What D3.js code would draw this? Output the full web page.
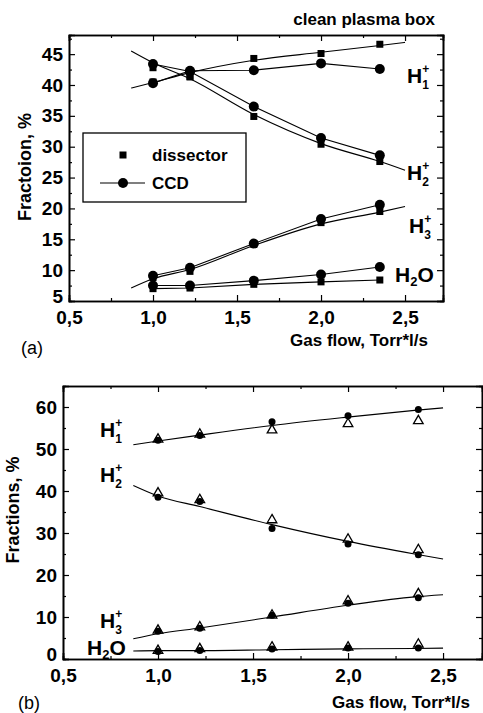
<!DOCTYPE html>
<html>
<head>
<meta charset="utf-8">
<script src="https://cdn.jsdelivr.net/npm/d3@7"></script>
<style>
  body { margin: 0; background: #fff; }
  text { font-family: "Liberation Sans", Arial, sans-serif; fill: #000; }
</style>
</head>
<body>
<div id="chart"></div>
<script>
// gas flow values where the points were measured
var flowA = [1.0, 1.22, 1.6, 2.0, 2.35];
var flowB = [1.0, 1.22, 1.6, 2.0, 2.37];
var fitFlow = [0.87, 1.0, 1.22, 1.6, 2.0, 2.35, 2.5];

var xTicks = [0.5, 1.0, 1.5, 2.0, 2.5];
var yTicksA = [5, 10, 15, 20, 25, 30, 35, 40, 45];
var yTicksB = [0, 10, 20, 30, 40, 50, 60];

// (a) clean plasma box
var dis_h1 = [40.5, 41.3, 44.3, 45.1, 46.6];
var dis_h2 = [42.8, 41.4, 34.9, 30.4, 27.6];
var dis_h3 = [8.8, 9.8, 14.2, 17.7, 19.5];
var dis_h2o = [7.0, 7.1, 7.7, 8.1, 8.4];
var ccd_h1 = [40.3, 42.3, 42.4, 43.5, 42.6];
var ccd_h2 = [43.4, 42.2, 36.5, 31.4, 28.6];
var ccd_h3 = [9.1, 10.4, 14.3, 18.3, 20.6];
var ccd_h2o = [7.5, 7.5, 8.3, 9.3, 10.5];
var fitA_h1 = [39.5, 40.4, 42.0, 44.0, 45.3, 46.4, 46.9];
var fitA_h2 = [45.5, 43.6, 41.0, 35.2, 30.5, 27.6, 26.2];
var fitA_h3 = [7.1, 8.6, 10.1, 14.0, 17.5, 19.4, 20.3];

// (b)
var circ_h1 = [52.1, 53.2, 56.5, 57.9, 59.4];
var tri_h1 = [52.3, 53.5, 54.5, 56.0, 56.7];
var circ_h2 = [38.5, 37.5, 31.1, 27.4, 24.8];
var tri_h2 = [39.5, 37.9, 33.1, 28.5, 26.0];
var circ_h3 = [6.6, 7.3, 10.4, 13.3, 14.6];
var tri_h3 = [6.8, 7.6, 10.4, 13.8, 15.5];
var circ_h2o = [1.8, 2.0, 2.4, 2.6, 2.6];
var tri_h2o = [2.0, 2.4, 2.8, 2.8, 3.5];
var fitB_h1 = [51.0, 51.9, 53.3, 55.6, 57.6, 59.2, 59.8];
var fitB_h2 = [41.3, 38.8, 36.3, 32.0, 28.0, 25.0, 23.8];
var fitB_h3 = [4.8, 6.0, 7.4, 10.0, 12.8, 14.8, 15.3];
var fitB_h2o = [1.9, 2.0, 2.0, 2.2, 2.4, 2.5, 2.6];

var svg = d3.select("#chart").append("svg")
  .attr("width", 483)
  .attr("height", 713);

var fmt = d => d3.format(".1f")(d).replace(".", ",");

function pairs(xs, ys) {
  return xs.map((x, i) => [x, ys[i]]);
}

function draw_frame(x, y, yTicks, yMinor, xMinor) {
  var x0 = x.range()[0], x1 = x.range()[1];
  var y0 = y.range()[0], y1 = y.range()[1];

  var bottom = svg.append("g")
    .attr("transform", "translate(0," + y0 + ")")
    .call(d3.axisBottom(x).tickValues(xTicks).tickFormat(fmt).tickSize(-6).tickPadding(10));
  svg.append("g")
    .attr("transform", "translate(0," + y0 + ")")
    .call(d3.axisBottom(x).tickValues(xMinor).tickFormat("").tickSize(-3));
  svg.append("g")
    .attr("transform", "translate(0," + y1 + ")")
    .call(d3.axisTop(x).tickValues(xTicks).tickFormat("").tickSize(-6));
  svg.append("g")
    .attr("transform", "translate(0," + y1 + ")")
    .call(d3.axisTop(x).tickValues(xMinor).tickFormat("").tickSize(-3));

  var left = svg.append("g")
    .attr("transform", "translate(" + x0 + ",0)")
    .call(d3.axisLeft(y).tickValues(yTicks).tickFormat(d3.format("d")).tickSize(-6).tickPadding(6));
  svg.append("g")
    .attr("transform", "translate(" + x0 + ",0)")
    .call(d3.axisLeft(y).tickValues(yMinor).tickFormat("").tickSize(-3));
  svg.append("g")
    .attr("transform", "translate(" + x1 + ",0)")
    .call(d3.axisRight(y).tickValues(yTicks).tickFormat("").tickSize(-6));
  svg.append("g")
    .attr("transform", "translate(" + x1 + ",0)")
    .call(d3.axisRight(y).tickValues(yMinor).tickFormat("").tickSize(-3));

  svg.selectAll(".domain").attr("stroke-width", 1.6);
  svg.selectAll(".tick line").attr("stroke-width", 1.2);
  [bottom, left].forEach(g => g.selectAll("text")
    .style("font-size", "19px").style("font-weight", "bold")
    .style("font-family", "'Liberation Sans', Arial, sans-serif"));
  // lowest y label sits a little higher, as in the print
  left.selectAll(".tick text").filter(d => d === y.domain()[0]).attr("dy", "0.1em");
}

// H with stacked charge (+) over the subscript, or H2O
function ion_label(xp, yp, sub, sup, tail) {
  var t = svg.append("text").attr("x", xp).attr("y", yp)
    .style("font-size", "21px").style("font-weight", "bold");
  t.append("tspan").text("H");
  if (sup) {
    t.append("tspan").attr("dy", -10).style("font-size", "12px").text(sup);
    t.append("tspan").attr("dx", -7).attr("dy", 16).style("font-size", "12px").text(sub);
  } else {
    t.append("tspan").attr("dy", 4).style("font-size", "13px").text(sub);
    t.append("tspan").attr("dy", -4).text(tail);
  }
}

// ---------- panel (a) ----------
var xa = d3.scaleLinear().domain([0.5, 2.726]).range([69, 443]);
var ya = d3.scaleLinear().domain([5, 48.1]).range([301, 35]);

draw_frame(xa, ya, yTicksA, d3.range(7.5, 48, 5), d3.range(0.75, 2.7, 0.5));

var lineA = d3.line().x(d => xa(d[0])).y(d => ya(d[1]));
var fitLineA = d3.line().x(d => xa(d[0])).y(d => ya(d[1])).curve(d3.curveMonotoneX);

[fitA_h1, fitA_h2, fitA_h3].forEach(function(s) {
  svg.append("path").datum(pairs(fitFlow, s))
    .attr("fill", "none").attr("stroke", "#000").attr("stroke-width", 1.1)
    .attr("d", fitLineA);
});
[ccd_h1, ccd_h2, ccd_h3, ccd_h2o, dis_h2o].forEach(function(s) {
  svg.append("path").datum(pairs(flowA, s))
    .attr("fill", "none").attr("stroke", "#000").attr("stroke-width", 1.1)
    .attr("d", lineA);
});

[dis_h1, dis_h2, dis_h3, dis_h2o].forEach(function(s) {
  svg.append("g").selectAll("rect")
    .data(pairs(flowA, s))
    .join("rect")
      .attr("x", d => xa(d[0]) - 3.5)
      .attr("y", d => ya(d[1]) - 3.5)
      .attr("width", 7).attr("height", 7)
      .attr("fill", "#000");
});
[ccd_h1, ccd_h2, ccd_h3, ccd_h2o].forEach(function(s) {
  svg.append("g").selectAll("circle")
    .data(pairs(flowA, s))
    .join("circle")
      .attr("cx", d => xa(d[0]))
      .attr("cy", d => ya(d[1]))
      .attr("r", 5)
      .attr("fill", "#000");
});

// legend
svg.append("rect").attr("x", 83).attr("y", 133).attr("width", 163).attr("height", 69)
  .attr("fill", "#fff").attr("stroke", "#000").attr("stroke-width", 1.3);
svg.append("rect").attr("x", 119.5).attr("y", 151.5).attr("width", 7).attr("height", 7).attr("fill", "#000");
svg.append("line").attr("x1", 100).attr("x2", 145).attr("y1", 183).attr("y2", 183)
  .attr("stroke", "#000").attr("stroke-width", 1.1);
svg.append("circle").attr("cx", 123).attr("cy", 183).attr("r", 5).attr("fill", "#000");
svg.append("text").attr("x", 152).attr("y", 161).style("font-size", "17px").style("font-weight", "bold").text("dissector");
svg.append("text").attr("x", 152).attr("y", 189).style("font-size", "17px").style("font-weight", "bold").text("CCD");

ion_label(407, 83, "1", "+");
ion_label(407, 180, "2", "+");
ion_label(409, 233, "3", "+");
ion_label(395, 282, "2", null, "O");

svg.append("text").attr("x", 435).attr("y", 25).attr("text-anchor", "end")
  .style("font-size", "17px").style("font-weight", "bold").text("clean plasma box");
svg.append("text").attr("transform", "translate(31,167) rotate(-90)").attr("text-anchor", "middle")
  .style("font-size", "18px").style("font-weight", "bold").text("Fractoion, %");
svg.append("text").attr("x", 428).attr("y", 346).attr("text-anchor", "end")
  .style("font-size", "17px").style("font-weight", "bold").text("Gas flow, Torr*l/s");
svg.append("text").attr("x", 21).attr("y", 354).style("font-size", "18px").text("(a)");

// ---------- panel (b) ----------
var xb = d3.scaleLinear().domain([0.5, 2.705]).range([63, 482]);
var yb = d3.scaleLinear().domain([0, 65]).range([659, 386]);

draw_frame(xb, yb, yTicksB, d3.range(5, 65, 10), d3.range(0.75, 2.7, 0.5));

var fitLineB = d3.line().x(d => xb(d[0])).y(d => yb(d[1])).curve(d3.curveMonotoneX);
[fitB_h1, fitB_h2, fitB_h3, fitB_h2o].forEach(function(s) {
  svg.append("path").datum(pairs(fitFlow, s))
    .attr("fill", "none").attr("stroke", "#000").attr("stroke-width", 1.1)
    .attr("d", fitLineB);
});

[circ_h1, circ_h2, circ_h3, circ_h2o].forEach(function(s) {
  svg.append("g").selectAll("circle")
    .data(pairs(flowB, s))
    .join("circle")
      .attr("cx", d => xb(d[0]))
      .attr("cy", d => yb(d[1]))
      .attr("r", 3.5)
      .attr("fill", "#000");
});
var tri = d3.symbol().type(d3.symbolTriangle).size(40);
[tri_h1, tri_h2, tri_h3, tri_h2o].forEach(function(s) {
  svg.append("g").selectAll("path")
    .data(pairs(flowB, s))
    .join("path")
      .attr("transform", d => "translate(" + xb(d[0]) + "," + yb(d[1]) + ")")
      .attr("d", tri)
      .attr("fill", "none")
      .attr("stroke", "#000")
      .attr("stroke-width", 1.3);
});

ion_label(100, 437, "1", "+");
ion_label(100, 482, "2", "+");
ion_label(100, 628, "3", "+");
ion_label(87, 655, "2", null, "O");

svg.append("text").attr("transform", "translate(19,510) rotate(-90)").attr("text-anchor", "middle")
  .style("font-size", "18px").style("font-weight", "bold").text("Fractions, %");
svg.append("text").attr("x", 470).attr("y", 708).attr("text-anchor", "end")
  .style("font-size", "17px").style("font-weight", "bold").text("Gas flow, Torr*l/s");
svg.append("text").attr("x", 18).attr("y", 709).style("font-size", "18px").text("(b)");
</script>
</body>
</html>
